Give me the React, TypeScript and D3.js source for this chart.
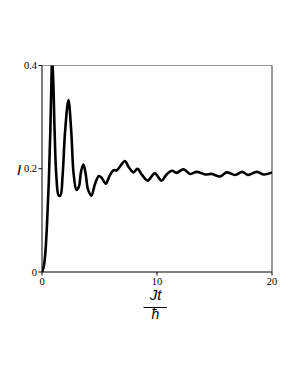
import React from "react";
import * as d3 from "d3";

const T = [0, 0.15, 0.3, 0.45, 0.6, 0.72, 0.82, 0.88, 0.98, 1.1, 1.25, 1.45, 1.6, 1.8, 2.0, 2.3, 2.55, 2.75, 3.0, 3.2, 3.4, 3.6, 3.8, 4.0, 4.3, 4.6, 4.95, 5.2, 5.55, 5.85, 6.2, 6.5, 6.9, 7.2, 7.55, 7.95, 8.3, 8.7, 9.2, 9.8, 10.4, 10.8, 11.3, 11.7, 12.3, 12.9, 13.45, 14.2, 14.75, 15.5, 16.05, 16.8, 17.4, 17.9, 18.7, 19.25, 20];
const I = [0, 0.01, 0.04, 0.1, 0.18, 0.27, 0.37, 0.412, 0.37, 0.27, 0.185, 0.148, 0.148, 0.19, 0.27, 0.333, 0.27, 0.19, 0.159, 0.165, 0.195, 0.208, 0.19, 0.16, 0.148, 0.17, 0.186, 0.182, 0.171, 0.185, 0.197, 0.197, 0.208, 0.215, 0.203, 0.193, 0.2, 0.188, 0.177, 0.191, 0.177, 0.188, 0.196, 0.192, 0.199, 0.19, 0.194, 0.189, 0.19, 0.185, 0.193, 0.188, 0.194, 0.188, 0.194, 0.189, 0.193];
const xTicks = [0, 10, 20];
const yTicks = [0, 0.2, 0.4];

export default function App() {
  const W = 298, H = 385;
  const left = 42, right = 272, top = 65.5, bottom = 272;
  const x = d3.scaleLinear().domain([0, 20]).range([left, right]);
  const y = d3.scaleLinear().domain([0, 0.4]).range([bottom, top]);
  const pts: [number, number][] = T.map((t, i) => [t, I[i]]);
  const line = d3.line<[number, number]>().x(d => x(d[0])).y(d => y(d[1])).curve(d3.curveCatmullRom.alpha(0.5));
  const serif = "'Liberation Serif', 'DejaVu Serif', serif";
  const sans = "'Liberation Sans', Arial, sans-serif";
  return (
    <svg width={W} height={H} style={{ position: "absolute", left: 0, top: 0 }}>
      <defs>
        <clipPath id="pc">
          <rect x={left} y={top} width={right - left} height={bottom - top} />
        </clipPath>
      </defs>
      <rect width={W} height={H} fill="#fff" />
      <line x1={left} x2={right} y1={top} y2={top} stroke="#999" strokeWidth={1} />
      <line x1={right} x2={right} y1={top} y2={bottom} stroke="#333" strokeWidth={1} />
      <path d={line(pts) || ""} fill="none" stroke="#000" strokeWidth={2.6} strokeLinejoin="round" clipPath="url(#pc)" />
      <line x1={left} x2={left} y1={top} y2={bottom} stroke="#000" strokeWidth={1} />
      <line x1={left} x2={right} y1={bottom} y2={bottom} stroke="#000" strokeWidth={1} />
      {yTicks.map(v => (
        <g key={"y" + v}>
          <line x1={left - 3.5} x2={left} y1={y(v)} y2={y(v)} stroke="#000" />
          <text x={left - 5} y={y(v) + 3.5} textAnchor="end" fontFamily={serif} fontSize={10.5}>{v === 0 ? "0" : v.toFixed(1)}</text>
        </g>
      ))}
      {xTicks.map(v => (
        <g key={"x" + v}>
          <line x1={x(v)} x2={x(v)} y1={bottom} y2={bottom + 3.5} stroke="#000" />
          <text x={x(v)} y={bottom + 13} textAnchor="middle" fontFamily={serif} fontSize={10.5}>{v}</text>
        </g>
      ))}
      <text x={19} y={175} textAnchor="middle" fontFamily={sans} fontStyle="italic" fontSize={15}>I</text>
      <text x={155.5} y={300} textAnchor="middle" fontFamily={sans} fontStyle="italic" fontSize={15}>Jt</text>
      <line x1={143.5} x2={167} y1={307.5} y2={307.5} stroke="#000" strokeWidth={1} />
      <text x={155.5} y={319} textAnchor="middle" fontFamily={sans} fontStyle="italic" fontSize={14}>ħ</text>
    </svg>
  );
}
